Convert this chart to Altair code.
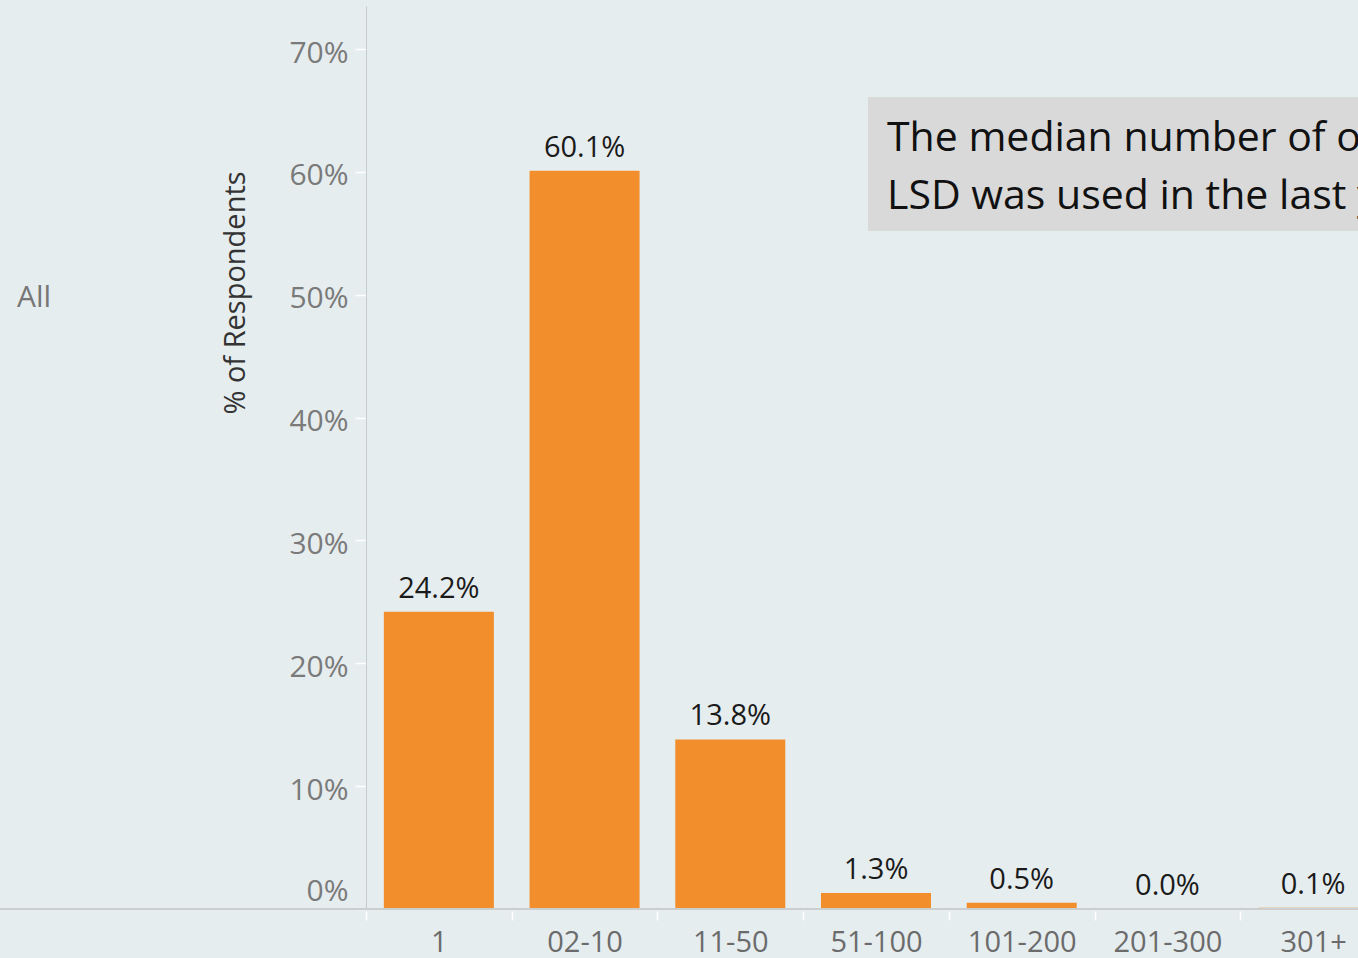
import altair as alt
import pandas as pd

# Share of respondents by number of occasions
categories = ["1", "02-10", "11-50", "51-100", "101-200", "201-300", "301+"]
percent_respondents = [24.2, 60.1, 13.8, 1.3, 0.5, 0.0, 0.1]
y_ticks = [0, 10, 20, 30, 40, 50, 60, 70]

row_label = "All"
y_title = "% of Respondents"
note_lines = ["The median number of occasions", "LSD was used in the last year"]

FONT = "Open Sans"
BG = "#e6edef"
BAR = "#f28e2b"

X_RANGE = 1020
STEP = X_RANGE / len(categories)

df = pd.DataFrame({"bucket": categories, "pct": percent_respondents})
one = pd.DataFrame({"k": [0]})

x_enc = alt.X(
    "bucket:N",
    sort=categories,
    scale=alt.Scale(range=[0, X_RANGE], paddingInner=0.245, paddingOuter=0.1225),
    axis=alt.Axis(
        title=None, labelAngle=0, labelFont=FONT, labelFontSize=29,
        labelColor="#6b6b6b", domain=False, ticks=True,
        tickOffset=-STEP / 2, labelOffset=STEP / 2,
        tickColor="#ffffff", tickSize=9, tickWidth=1.5, offset=2, labelPadding=8,
    ),
)
y_enc = alt.Y(
    "pct:Q",
    scale=alt.Scale(domain=[0, 73.5], nice=False, zero=True),
    axis=alt.Axis(
        title=None, values=y_ticks, labelExpr="datum.value + '%'",
        labelFont=FONT, labelFontSize=30, labelColor="#7a7a7a",
        grid=False, domain=True, domainColor="#c8cbcc", domainWidth=1,
        tickColor="#ffffff", tickSize=11, tickWidth=1.5, labelPadding=7,
        labelOffset=4, labelFlush=True, labelFlushOffset=-7,
    ),
)

base = alt.Chart(df).encode(x=x_enc, y=y_enc)

bars = base.mark_bar(color=BAR)

values = base.transform_calculate(
    label="format(datum.pct, '.1f') + '%'"
).mark_text(
    font=FONT, fontSize=29, color="#1a1a1a", baseline="alphabetic", dy=-14
).encode(text="label:N")

baseline_rule = alt.Chart(one).mark_rule(color="#cbcecf", strokeWidth=2).encode(
    x=alt.value(-366), x2=alt.value(992), y=alt.value(903)
)

title_text = alt.Chart(one).mark_text(
    angle=270, font=FONT, fontSize=29, color="#333333",
    align="center", baseline="middle",
).encode(x=alt.value(-130), y=alt.value(287), text=alt.value(y_title))

row_text = alt.Chart(one).mark_text(
    font=FONT, fontSize=30, color="#777777", align="left", baseline="middle",
).encode(x=alt.value(-349), y=alt.value(292), text=alt.value(row_label))

note_box = alt.Chart(one).mark_rect(color="#d9d9d9").encode(
    x=alt.value(502), x2=alt.value(1100), y=alt.value(91), y2=alt.value(225)
)

note_text = alt.Chart(one).mark_text(
    font=FONT, fontSize=41, color="#111111", align="left",
    baseline="alphabetic", lineHeight=58,
).encode(x=alt.value(521), y=alt.value(145), text=alt.value(note_lines))

chart = alt.layer(
    bars, baseline_rule, values, title_text, row_text, note_box, note_text
).properties(
    width=992,
    height=903,
    autosize=alt.AutoSizeParams(type="none"),
    padding={"left": 366, "top": 6, "right": 0, "bottom": 49},
).configure(
    background=BG,
).configure_view(
    stroke=None,
)

chart.save("out.html", embed_options={"renderer": "svg", "actions": False})
